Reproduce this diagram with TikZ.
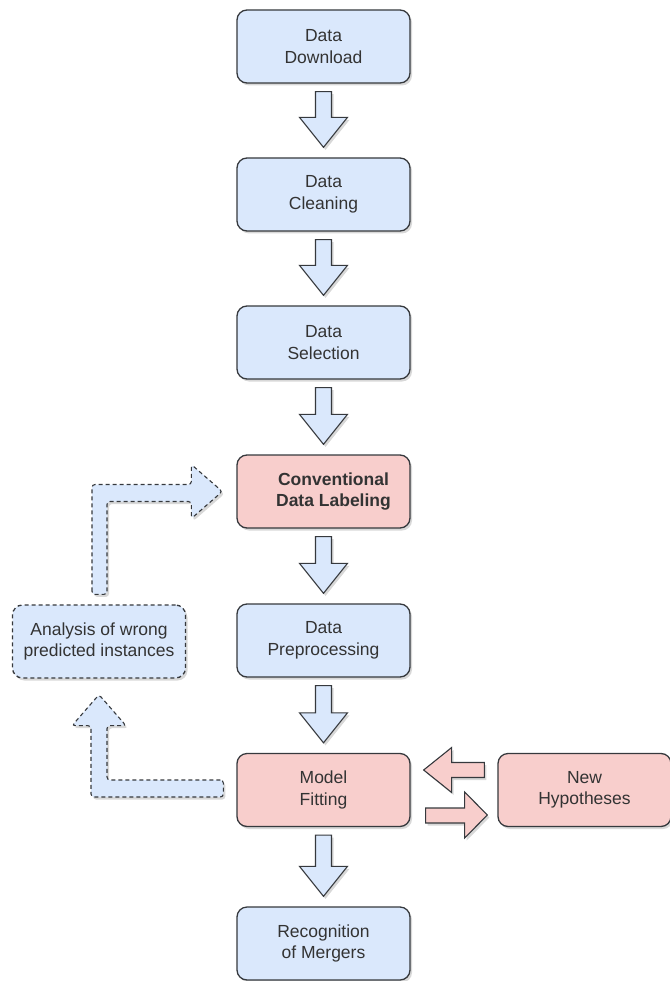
\documentclass[tikz,border=0pt]{standalone}
\usepackage{fontspec}
\setmainfont{Liberation Sans}
\usetikzlibrary{calc,shadows}
\definecolor{bfill}{HTML}{DAE8FC}
\definecolor{pfill}{HTML}{F8CECC}
\definecolor{edge}{HTML}{36393D}
\definecolor{txt}{HTML}{333333}
\tikzset{
  shad/.style={drop shadow={shadow xshift=2pt, shadow yshift=-2.5pt, opacity=0.22, fill=black!70}},
  box/.style={draw=edge, line width=1.3pt, rounded corners=10pt, minimum width=173pt,
    minimum height=73pt, align=center, text=txt, font=\fontsize{17.5}{21.5}\selectfont, shad},
  bluebox/.style={box, fill=bfill},
  pinkbox/.style={box, fill=pfill},
  dashbox/.style={box, fill=bfill, dash pattern=on 4pt off 3pt},
  barrow/.style={draw=edge, fill=bfill, line width=1.1pt, line join=miter, shad},
  parrow/.style={draw=edge, fill=pfill, line width=1.1pt, line join=miter, shad},
  darrow/.style={draw=edge, fill=bfill, line width=1.1pt, dash pattern=on 4pt off 3pt, rounded corners=3pt, shad},
}
\newcommand\blockdown[2]{%
  \draw[barrow] ($(#1.south)+(-8,8)$) -- ($(#1.south)+(8,8)$) -- ($(#2.north)+(8,-40)$)
    -- ($(#2.north)+(24,-40)$) -- ($(#2.north)+(0,-10)$) -- ($(#2.north)+(-24,-40)$)
    -- ($(#2.north)+(-8,-40)$) -- cycle;}
\begin{document}
\begin{tikzpicture}[x=1pt,y=-1pt]
\useasboundingbox (0,0) rectangle (669,981);
\node[bluebox] (dd) at (323.5,46.5) {Data\\Download};
\node[bluebox] (dc) at (323.5,194.5) {Data\\Cleaning};
\node[bluebox] (ds) at (323.5,342.5) {Data\\Selection};
\node[pinkbox, label={[xshift=10pt, text=txt, align=center, font=\bfseries\fontsize{17.5}{21.5}\selectfont]center:Conventional\\Data Labeling}] (cdl) at (323.5,491.5) {};
\node[bluebox] (dp) at (323.5,640.5) {Data\\Preprocessing};
\node[pinkbox] (mf) at (323.5,790) {Model\\Fitting};
\node[bluebox] (rm) at (323.5,943.5) {Recognition\\of Mergers};
\node[pinkbox] (nh) at (584.5,790) {New\\Hypotheses};
\node[dashbox] (an) at (99,641.5) {Analysis of wrong\\predicted instances};

\blockdown{dd}{dc}
\blockdown{dc}{ds}
\blockdown{ds}{cdl}
\blockdown{cdl}{dp}
\blockdown{dp}{mf}
\blockdown{mf}{rm}

% dashed feedback arrows
\coordinate (c1) at (an.south |- mf.west);
\draw[darrow] ($(mf.west)+(-13,-10)$) -- ($(c1)+(8,-10)$) -- ($(an.south)+(8,47)$)
  -- ($(an.south)+(27,47)$) -- ($(an.south)+(0,16)$) -- ($(an.south)+(-27,47)$)
  -- ($(an.south)+(-8,47)$) -- ($(c1)+(-8,7)$) -- ($(mf.west)+(-13,7)$) -- cycle;
\coordinate (c2) at (an.north |- cdl.west);
\draw[darrow] ($(an.north)+(-7,-10)$) -- ($(c2)+(-7,-7)$) -- ($(cdl.west)+(-45,-7)$)
  -- ($(cdl.west)+(-45,-27)$) -- ($(cdl.west)+(-14,0)$) -- ($(cdl.west)+(-45,27)$)
  -- ($(cdl.west)+(-45,10)$) -- ($(c2)+(8,10)$) -- ($(an.north)+(8,-10)$) -- cycle;

% pink arrows between model fitting and new hypotheses
\draw[parrow] ($(mf.east)+(13,-20)$) -- ($(mf.east)+(41,-42.5)$) -- ($(mf.east)+(41,-27.5)$)
  -- ($(nh.west)+(-13,-27.5)$) -- ($(nh.west)+(-13,-12.5)$) -- ($(mf.east)+(41,-12.5)$)
  -- ($(mf.east)+(41,2.5)$) -- cycle;
\draw[parrow] ($(mf.east)+(15,18)$) -- ($(mf.east)+(54,18)$) -- ($(mf.east)+(54,2)$)
  -- ($(nh.west)+(-10,25)$) -- ($(mf.east)+(54,48)$) -- ($(mf.east)+(54,33)$)
  -- ($(mf.east)+(15,33)$) -- cycle;
\end{tikzpicture}
\end{document}
